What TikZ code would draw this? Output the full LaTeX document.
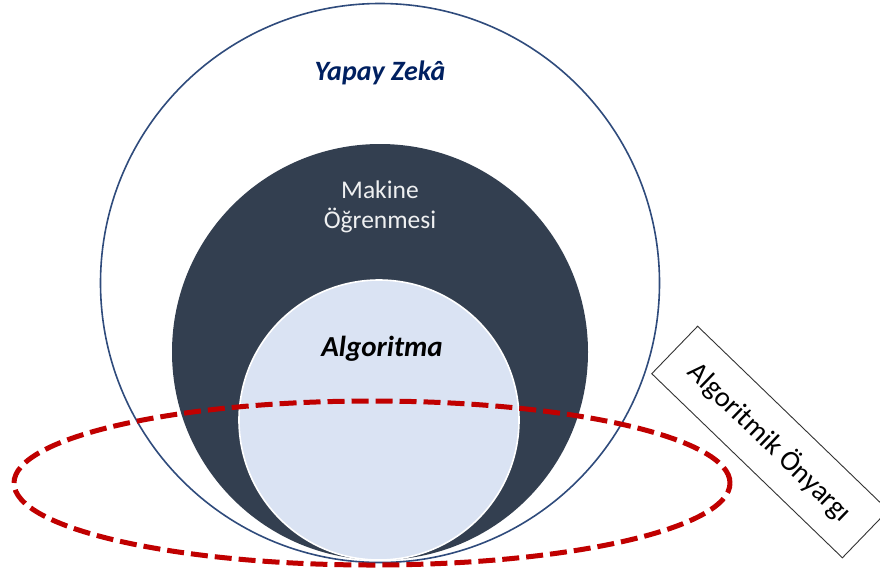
\documentclass[tikz,border=0pt]{standalone}
\usepackage{fontspec}
\setmainfont{Carlito}
\usetikzlibrary{shapes.geometric}
\definecolor{navyline}{HTML}{2F4B7C}
\definecolor{navytext}{HTML}{002060}
\definecolor{slatefill}{HTML}{333F50}
\definecolor{paleblue}{HTML}{DAE3F3}
\definecolor{biasred}{HTML}{C00000}
\tikzset{
  ring/.style={circle, inner sep=0pt, outer sep=0pt},
  label text/.style={inner sep=0pt, align=center},
}
\begin{document}
\begin{tikzpicture}[x=1pt, y=-1pt]
  \useasboundingbox (0,0) rectangle (880,576);
  \clip (0,0) rectangle (880,576);
  \fill[white] (0,0) rectangle (880,576);

  % nested circles
  \node[ring, draw=navyline, line width=1.6pt, minimum size=559pt] (ai) at (380,283) {};
  \node[ring, fill=slatefill, minimum size=416pt] (ml) at (380,352) {};
  \node[ring, fill=paleblue, draw=white, line width=1.6pt, minimum size=280pt] (alg) at (379,420) {};

  % circle labels
  \node[label text, text=navytext, font=\fontsize{28}{32}\selectfont\bfseries\itshape] (aitext) at (380,73) {Yapay Zekâ};
  \node[label text, text=white!92!slatefill, font=\fontsize{25.5}{29.5}\selectfont] (mltext) at (380,207) {Makine\\Öğrenmesi};
  \node[label text, text=black, font=\fontsize{29}{32}\selectfont\bfseries\itshape] (algtext) at (382,349) {Algoritma};

  % bias region
  \node[ellipse, draw=biasred, line width=5pt, dash pattern=on 17pt off 7pt,
        minimum width=716pt, minimum height=164pt, inner sep=0pt] (bias) at (372,483) {};

  % rotated label box
  \node[draw=black!80, line width=0.9pt, fill=white, rotate=-44,
        minimum width=265pt, minimum height=66pt, inner sep=0pt,
        font=\fontsize{28.5}{32}\selectfont] (biasbox) at (770,442) {Algoritmik Önyargı};
\end{tikzpicture}
\end{document}
